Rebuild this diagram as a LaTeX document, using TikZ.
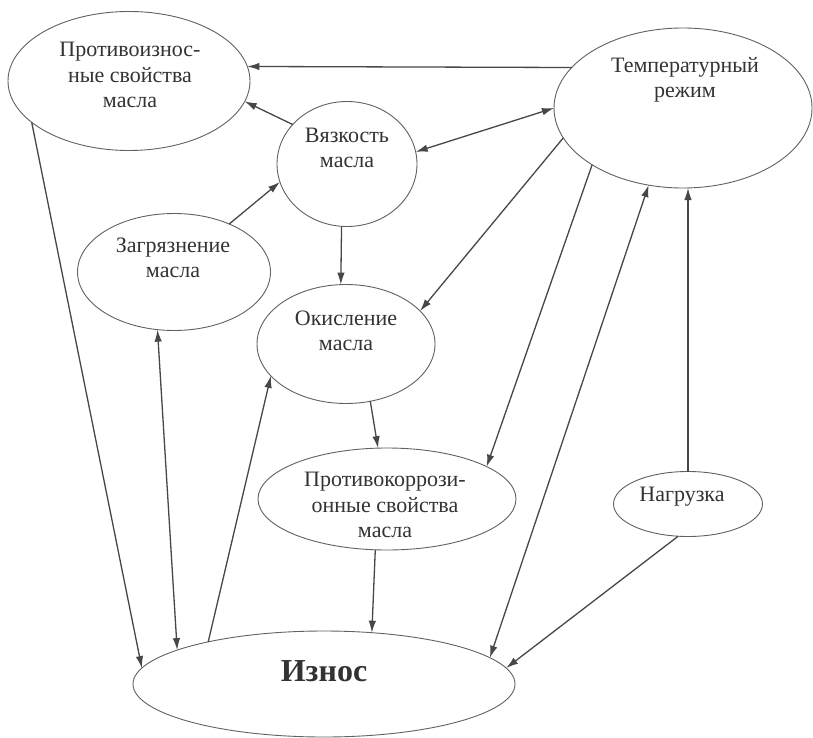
\documentclass[tikz,border=0pt]{standalone}
\usepackage{fontspec}
\setmainfont{Liberation Serif}
\usetikzlibrary{arrows.meta,shapes.geometric}
\begin{document}
\begin{tikzpicture}[x=1pt,y=-1pt,
  oval/.style={draw=black!62, line width=0.9pt, ellipse, inner sep=0pt, outer sep=0pt},
  lbl/.style={align=center, text=black!80, font=\fontsize{22}{25.5}\selectfont, inner sep=0pt},
  tip/.tip={Latex[length=12pt,width=7.5pt]},
  conn/.style={draw=black!72, line width=1.3pt, -tip},
  conntwo/.style={draw=black!72, line width=1.3pt, tip-tip}]
\useasboundingbox[fill=white] (0,0) rectangle (813,738);
% ellipses
\node[oval, minimum width=242pt, minimum height=139pt] (anti) at (129,81) {};
\node[oval, minimum width=258pt, minimum height=160pt] (temp) at (683,108) {};
\node[oval, minimum width=140pt, minimum height=125pt] (visc) at (347,164) {};
\node[oval, minimum width=193pt, minimum height=117pt] (dirt) at (174,272) {};
\node[oval, minimum width=178pt, minimum height=119pt] (oxid) at (346,344) {};
\node[oval, minimum width=258pt, minimum height=102pt] (corr) at (387,499) {};
\node[oval, minimum width=149pt, minimum height=65pt] (load) at (688,504) {};
\node[oval, minimum width=382pt, minimum height=106pt] (wear) at (324,684) {};
% texts
\node[lbl] (antiT) at (130,75) {Противоизнос-\\ные свойства\\масла};
\node[lbl] (tempT) at (685,80) {Температурный\\режим};
\node[lbl] (viscT) at (347,148) {Вязкость\\масла};
\node[lbl] (dirtT) at (173,258) {Загрязнение\\масла};
\node[lbl] (oxidT) at (346,331) {Окисление\\масла};
\node[lbl] (corrT) at (385,505) {Противокоррози-\\онные свойства\\масла};
\node[lbl] (loadT) at (682,497) {Нагрузка};
\node[lbl, font=\fontsize{32}{36}\selectfont\bfseries] (wearT) at (324,671) {Износ};
% connectors
\draw[conn] (temp.160) -- (anti.7);
\draw[conn] (visc.144) -- (anti.350);
\draw[conntwo] (visc.10) -- (temp.180);
\draw[conn] (dirt.41) -- (visc.195);
\draw[conn] (visc.265) -- (oxid.95);
\draw[conn] (temp.194) -- (oxid.24);
\draw[conn] (temp.212) -- (corr.18);
\draw[conntwo] (wear.9.5) -- (temp.246);
\draw[conn] (load.north) -- (load.north |- temp.south);
\draw[conn] (oxid.293) -- (corr.100);
\draw[conn] (corr.257) -- (wear.47);
\draw[conn] (load.253) -- (wear.5);
\draw[conn] (anti.203) -- (wear.175);
\draw[conntwo] (dirt.254) -- (wear.167.5);
\draw[conn] (wear.160.6) -- (oxid.203);
\end{tikzpicture}
\end{document}
